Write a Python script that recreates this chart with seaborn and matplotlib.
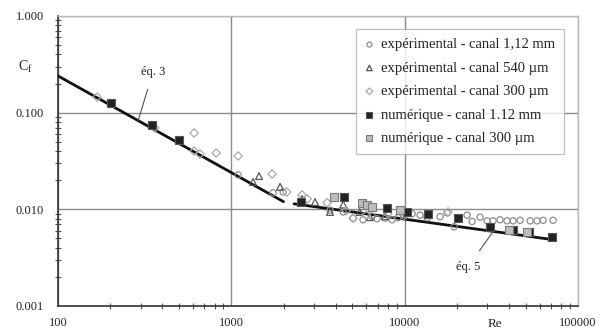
import numpy as np
import pandas as pd
import matplotlib
matplotlib.use("Agg")
import matplotlib.pyplot as plt
import matplotlib.ticker as mticker
import seaborn as sns

# ---------------- data ----------------
exp112_re = [1094, 1740, 1990, 3710, 4420, 5040, 5750, 6490, 6930, 7710, 8460, 9160,
             9930, 11040, 12280, 13470, 16000, 17570, 19280, 22910, 24490, 27230,
             29870, 32360, 35480, 38960, 42220, 46350, 52960, 58080, 62920, 71840]
exp112_cf = [0.0227, 0.0148, 0.0151, 0.0098, 0.0094, 0.0081, 0.0078, 0.0085, 0.0080,
             0.0081, 0.0078, 0.0082, 0.0085, 0.0090, 0.0087, 0.0082, 0.0084, 0.0092,
             0.0066, 0.0087, 0.0075, 0.0083, 0.0076, 0.0076, 0.0078, 0.0076, 0.0076,
             0.0077, 0.0076, 0.0076, 0.0077, 0.0077]

exp540_re = [1334, 1445, 1910, 2560, 3040, 3710, 4420, 5500, 6300, 7700]
exp540_cf = [0.0192, 0.0221, 0.0171, 0.0128, 0.0119, 0.0094, 0.0112, 0.0094, 0.0083, 0.0085]

exp300_re = [168, 362, 610, 610, 659, 817, 1094, 1718, 2090, 2560, 2740, 3570, 4600,
             5040, 6000, 8000, 17800]
exp300_cf = [0.145, 0.0695, 0.0617, 0.040, 0.0374, 0.0383, 0.0357, 0.0232, 0.0151,
             0.0141, 0.0128, 0.0117, 0.0097, 0.0081, 0.0087, 0.0090, 0.0094]

num112_re = [202, 349, 499, 2520, 4470, 7900, 10300, 13600, 20200, 31000, 42000, 52000, 71000]
num112_cf = [0.126, 0.0746, 0.052, 0.0119, 0.0134, 0.0103, 0.0094, 0.0090, 0.0082,
             0.0066, 0.0061, 0.0058, 0.0052]

num300_re = [3920, 5670, 6050, 6500, 9400, 40000, 50600]
num300_cf = [0.0134, 0.0117, 0.0110, 0.0105, 0.0098, 0.0061, 0.0058]

eq3_re = [100, 2000]
eq3_cf = [0.24, 0.012]
eq5_re = [2300, 72000]
eq5_cf = [0.0114, 0.00485]

series_labels = ["expérimental - canal 1,12 mm", "expérimental - canal 540 µm",
                 "expérimental - canal 300 µm", "numérique - canal 1.12 mm",
                 "numérique - canal 300 µm"]
x_ticks = [100, 1000, 10000, 100000]
x_ticklabels = ["100", "1000", "10000", "100000"]
y_ticks = [0.001, 0.01, 0.1, 1.0]
y_ticklabels = ["0.001", "0.010", "0.100", "1.000"]

# ---------------- style ----------------
sns.set_theme(style="white")
plt.rcParams["font.family"] = ["Liberation Serif", "DejaVu Serif"]
plt.rcParams["mathtext.default"] = "regular"

fig = plt.figure(figsize=(6.02, 3.33), dpi=100)
ax = fig.add_axes([58 / 602, 1 - 306 / 333, 520 / 602, 290 / 333])

ax.set_xscale("log")
ax.set_yscale("log")
ax.set_xlim(100, 100000)
ax.set_ylim(0.001, 1.0)

ax.grid(True, which="major", color="#8a8a8a", linewidth=1.0)
ax.set_axisbelow(True)

# lines
sns.lineplot(x=eq3_re, y=eq3_cf, ax=ax, color="#111111", linewidth=2.0, zorder=3)
sns.lineplot(x=eq5_re, y=eq5_cf, ax=ax, color="#111111", linewidth=2.0, zorder=3)

specs = [
    (exp112_re, exp112_cf, dict(marker="o", s=20, facecolor="none", edgecolor="#8c8c8c", linewidth=0.9)),
    (exp540_re, exp540_cf, dict(marker="^", s=24, facecolor="none", edgecolor="#555555", linewidth=0.9)),
    (exp300_re, exp300_cf, dict(marker="D", s=18, facecolor="none", edgecolor="#aaaaaa", linewidth=0.9)),
    (num112_re, num112_cf, dict(marker="s", s=28, facecolor="#222222", edgecolor="#555555", linewidth=0.8)),
    (num300_re, num300_cf, dict(marker="s", s=28, facecolor="#bdbdbd", edgecolor="#7a7a7a", linewidth=0.8)),
]
for (xs, ys, kw), lab in zip(specs, series_labels):
    df = pd.DataFrame({"Re": xs, "Cf": ys})
    sns.scatterplot(data=df, x="Re", y="Cf", ax=ax, label=lab, zorder=4, **kw)

ax.set_xlabel("")
ax.set_ylabel("")

ax.set_xticks(x_ticks)
ax.set_xticklabels(x_ticklabels)
ax.set_yticks(y_ticks)
ax.set_yticklabels(y_ticklabels)
ax.xaxis.set_minor_locator(mticker.LogLocator(base=10, subs=np.arange(2, 10)))
ax.yaxis.set_minor_locator(mticker.LogLocator(base=10, subs=np.arange(2, 10)))
ax.xaxis.set_minor_formatter(mticker.NullFormatter())
ax.yaxis.set_minor_formatter(mticker.NullFormatter())

ax.tick_params(axis="x", which="major", direction="out", length=0, pad=8,
               labelsize=9, colors="#333333")
ax.tick_params(axis="x", which="minor", direction="inout", length=4, width=0.8,
               color="#555555", bottom=True)
ax.tick_params(axis="y", which="major", direction="out", length=6, width=1.0, pad=4,
               labelsize=9, colors="#333333")
ax.tick_params(axis="y", which="minor", direction="inout", length=4, width=0.8,
               color="#555555", left=True)
for lab in ax.get_xticklabels() + ax.get_yticklabels():
    lab.set_color("#222222")

for side in ["left", "bottom"]:
    ax.spines[side].set_color("#333333")
    ax.spines[side].set_linewidth(1.2)
for side in ["top", "right"]:
    ax.spines[side].set_color("#bbbbbb")
    ax.spines[side].set_linewidth(1.0)

# axis labels
ax.text(25 / 602, 1 - 67 / 333, r"C$_{f}$", transform=fig.transFigure,
        ha="center", va="center", fontsize=10, color="#222222")
ax.text(495 / 602, 1 - 324 / 333, "Re", transform=fig.transFigure,
        ha="center", va="center", fontsize=9.5, color="#222222")

# annotations
ax.annotate("éq. 3", xy=(290, 24 / 290), xytext=(353, 0.264),
            ha="center", va="center", fontsize=9, color="#222222",
            arrowprops=dict(arrowstyle="-", color="#555555", lw=0.8,
                            shrinkA=6, shrinkB=0))
ax.annotate("éq. 5", xy=(32400, 0.0059), xytext=(23200, 0.00254),
            ha="center", va="center", fontsize=9, color="#222222",
            arrowprops=dict(arrowstyle="-", color="#555555", lw=0.8,
                            shrinkA=6, shrinkB=0))

leg = ax.legend(loc="upper right", bbox_to_anchor=(0.987, 0.979), fontsize=10.5,
                frameon=True, fancybox=False, edgecolor="#aaaaaa",
                handlelength=0.6, handletextpad=0.5, labelspacing=0.7,
                borderpad=0.6, markerscale=0.8)
leg.get_frame().set_linewidth(0.8)
for t in leg.get_texts():
    t.set_color("#222222")

fig.savefig("out.png", dpi=100, facecolor="white")
